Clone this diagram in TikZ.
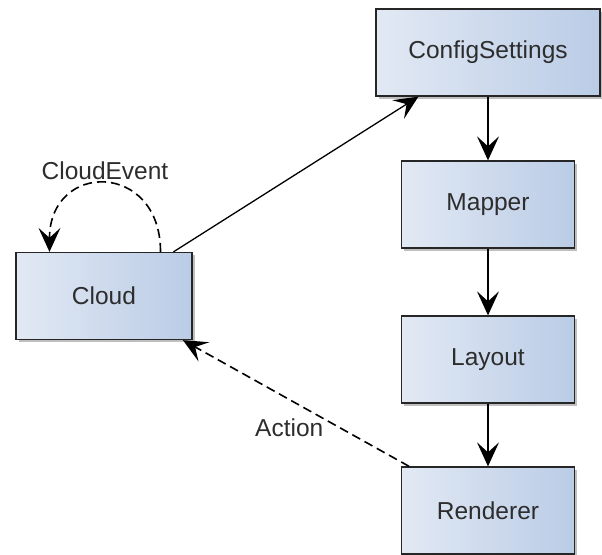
\documentclass[tikz,border=0pt]{standalone}
\usepackage{fontspec}
\setmainfont{Liberation Sans}
\usepackage{tikz}
\usetikzlibrary{positioning,arrows.meta,shadows}
\definecolor{BoxLight}{RGB}{226,233,244}
\definecolor{BoxDark}{RGB}{186,204,230}
\definecolor{TextGray}{RGB}{45,45,45}
\tikzset{
  blk/.style={draw=black!85,line width=1.3pt,left color=BoxLight,right color=BoxDark,
    minimum height=87pt,text=TextGray,font=\fontsize{24.5}{28}\selectfont,
    drop shadow={shadow xshift=2.5pt,shadow yshift=-2.5pt,opacity=0.25,fill=black}},
  flowedge/.style={draw=black,line width=1.3pt,-{Stealth[length=24pt,width=22pt,inset=10pt]}},
  dashedge/.style={flowedge,line width=1.6pt,dash pattern=on 9pt off 5pt},
  lbl/.style={text=TextGray,font=\fontsize{24.5}{28}\selectfont},
}
\begin{document}
\begin{tikzpicture}[x=1pt,y=-1pt]
  \useasboundingbox (0,0) rectangle (602,554);
  % pipeline column
  \node[blk,minimum width=224pt] (config) at (488,52.5) {ConfigSettings};
  \node[blk,minimum width=173pt] (mapper) at (488,204.5) {Mapper};
  \node[blk,minimum width=173pt] (layout) at (488,359.5) {Layout};
  \node[blk,minimum width=173pt] (renderer) at (488,510.5) {Renderer};
  % source
  \node[blk,minimum width=176pt] (cloud) at (104,296) {Cloud};
  \draw[flowedge] (config) -- (mapper);
  \draw[flowedge] (mapper) -- (layout);
  \draw[flowedge] (layout) -- (renderer);
  \draw[flowedge] (cloud) -- (config);
  \draw[dashedge] (renderer) -- node[lbl,pos=0.53,below,yshift=-15pt] {Action} (cloud);
  \draw[dashedge] (cloud.38.5) .. controls +(0,-91) and +(0,-91) .. node[lbl,midway,above] {CloudEvent} (cloud.141);
\end{tikzpicture}
\end{document}
